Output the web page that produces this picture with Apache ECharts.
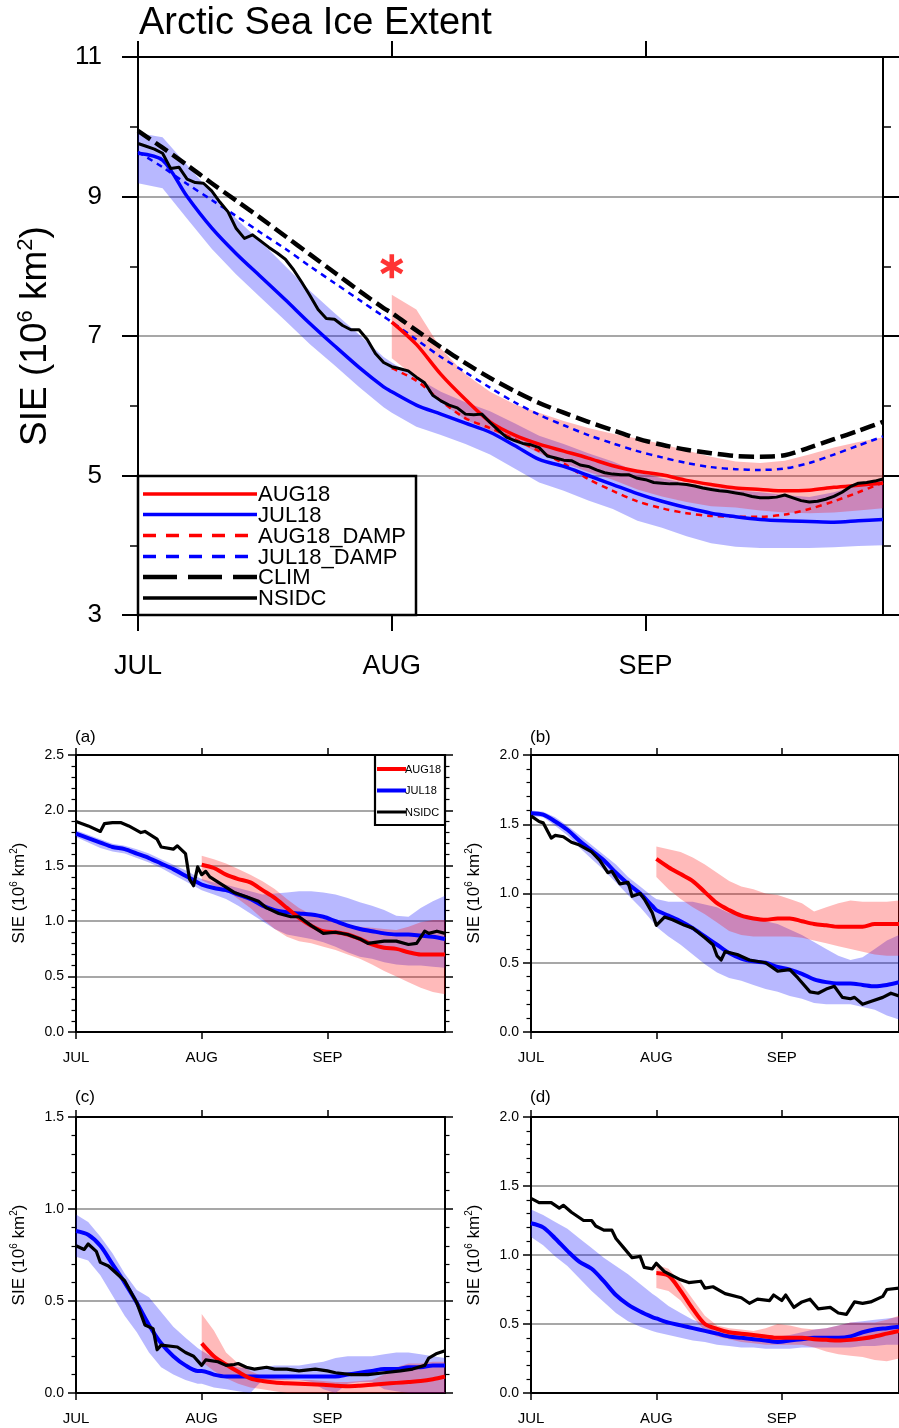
<!DOCTYPE html>
<html>
<head>
<meta charset="utf-8">
<script src="https://cdn.jsdelivr.net/npm/echarts@6/dist/echarts.min.js"></script>
<style>
html, body { margin: 0; padding: 0; background: #ffffff; }
#chart { width: 899px; height: 1428px; }
</style>
</head>
<body>
<div id="chart"></div>
<script>
// ---------- axis ticks (day of season, 0 = 1 July) ----------
const monthStarts = [0, 31, 62];
const monthLabels = ['JUL', 'AUG', 'SEP'];

// model sampling days
const days = [0,3,6,9,12,15,18,21,24,27,30,31,34,37,40,43,46,49,52,55,58,61,64,67,70,73,76,79,82,85,88,91];
const augDays = [31,34,37,40,43,46,49,52,55,58,61,64,67,70,73,76,79,82,85,88,91];

// ---------- top panel: Arctic total (10^6 km^2) ----------
const clim = [9.94,9.70,9.45,9.19,8.94,8.69,8.43,8.17,7.91,7.65,7.40,7.33,7.08,6.84,6.61,6.40,6.21,6.04,5.90,5.77,5.65,5.53,5.44,5.37,5.32,5.28,5.27,5.29,5.40,5.52,5.64,5.77];
const julDamp = [9.64,9.42,9.18,8.95,8.72,8.48,8.25,8.00,7.76,7.52,7.28,7.20,6.95,6.70,6.48,6.26,6.05,5.87,5.72,5.58,5.46,5.35,5.26,5.18,5.12,5.09,5.08,5.10,5.18,5.30,5.43,5.56];
const jul18 = [9.62,9.52,9.00,8.55,8.18,7.85,7.52,7.18,6.86,6.55,6.27,6.20,6.01,5.88,5.75,5.62,5.43,5.23,5.13,5.00,4.87,4.74,4.63,4.54,4.46,4.41,4.37,4.35,4.34,4.33,4.35,4.37];
const jul18Hi = [9.91,9.85,9.45,9.05,8.68,8.35,8.00,7.65,7.33,7.02,6.70,6.62,6.40,6.20,6.05,5.92,5.75,5.57,5.45,5.32,5.20,5.05,4.96,4.89,4.83,4.79,4.76,4.72,4.69,4.76,4.86,4.94];
const jul18Lo = [9.19,9.12,8.68,8.25,7.88,7.55,7.22,6.88,6.58,6.27,5.98,5.90,5.70,5.58,5.45,5.30,5.10,4.90,4.78,4.64,4.52,4.35,4.25,4.13,4.03,3.98,3.96,3.96,3.96,3.97,3.99,4.00];
const aug18 = [7.20,6.88,6.45,6.09,5.77,5.58,5.45,5.35,5.25,5.14,5.06,5.01,4.93,4.87,4.82,4.80,4.78,4.79,4.83,4.86,4.89];
const aug18Hi = [7.59,7.38,6.82,6.45,6.20,6.02,5.90,5.78,5.68,5.60,5.53,5.45,5.36,5.27,5.20,5.18,5.21,5.30,5.40,5.48,5.55];
const aug18Lo = [6.68,6.40,6.05,5.80,5.65,5.50,5.32,5.18,5.05,4.94,4.80,4.70,4.62,4.56,4.54,4.50,4.47,4.46,4.47,4.50,4.53];
const augDamp = [6.54,6.36,6.07,5.82,5.68,5.52,5.35,5.17,4.95,4.78,4.63,4.53,4.46,4.42,4.41,4.41,4.44,4.52,4.63,4.76,4.90];
const nsidc = [9.76,9.72,9.68,9.62,9.40,9.42,9.25,9.20,9.19,9.08,
  8.92,8.78,8.54,8.40,8.45,8.36,8.27,8.19,8.10,7.95,
  7.77,7.58,7.38,7.25,7.24,7.15,7.09,7.09,6.95,6.75,
  6.62,6.56,6.53,6.50,6.41,6.33,6.15,6.07,6.01,5.97,
  5.88,5.87,5.88,5.76,5.65,5.55,5.50,5.46,5.44,5.40,
  5.28,5.25,5.22,5.21,5.15,5.13,5.08,5.04,5.02,5.01,
  5.01,4.96,4.94,4.90,4.89,4.88,4.88,4.87,4.85,4.82,
  4.80,4.78,4.77,4.75,4.73,4.70,4.68,4.68,4.69,4.72,
  4.68,4.64,4.62,4.63,4.66,4.70,4.76,4.84,4.89,4.90,
  4.92,4.95];
const nsidcDays = nsidc.map((v, i) => i);
const augStar = [[31, 8.0]];

// ---------- panel (a) ----------
const aJul = [1.79,1.75,1.71,1.67,1.65,1.61,1.57,1.52,1.47,1.41,1.35,1.33,1.30,1.28,1.24,1.20,1.14,1.10,1.08,1.07,1.06,1.04,1.00,0.96,0.93,0.91,0.89,0.88,0.88,0.87,0.86,0.84];
const aJulHi = [1.82,1.78,1.74,1.70,1.68,1.65,1.61,1.56,1.51,1.46,1.40,1.38,1.35,1.33,1.30,1.27,1.24,1.25,1.26,1.27,1.27,1.26,1.24,1.21,1.17,1.14,1.10,1.05,1.04,1.12,1.18,1.23];
const aJulLo = [1.76,1.71,1.66,1.63,1.61,1.57,1.53,1.48,1.42,1.36,1.30,1.28,1.24,1.20,1.14,1.07,1.00,0.93,0.88,0.86,0.84,0.81,0.77,0.72,0.68,0.66,0.63,0.61,0.60,0.60,0.59,0.58];
const aAug = [1.51,1.48,1.42,1.38,1.35,1.28,1.21,1.12,1.03,0.96,0.91,0.90,0.88,0.84,0.79,0.76,0.75,0.72,0.70,0.70,0.70];
const aAugHi = [1.59,1.56,1.52,1.47,1.42,1.36,1.29,1.20,1.12,1.06,1.02,1.00,0.97,0.95,0.94,0.93,0.92,0.95,0.99,1.01,1.01];
const aAugLo = [1.37,1.32,1.28,1.20,1.12,1.02,0.93,0.86,0.82,0.80,0.77,0.74,0.70,0.66,0.61,0.55,0.50,0.45,0.40,0.36,0.34];
const aObsDays = [0,3,6,7,9,11,13,16,17,20,21,24,25,27,28,29,30,31,32,33,36,39,42,45,47,50,53,55,58,61,64,67,70,72,76,79,82,84,86,87,89,91];
const aObs = [1.90,1.86,1.81,1.88,1.89,1.89,1.86,1.80,1.81,1.74,1.67,1.65,1.68,1.61,1.38,1.32,1.49,1.42,1.45,1.40,1.33,1.26,1.22,1.18,1.12,1.07,1.04,1.04,0.96,0.89,0.90,0.88,0.84,0.80,0.82,0.82,0.79,0.80,0.91,0.89,0.91,0.89];

// ---------- panel (b) ----------
const bJul = [1.58,1.57,1.52,1.46,1.38,1.31,1.24,1.15,1.07,1.00,0.91,0.88,0.84,0.80,0.75,0.69,0.63,0.57,0.53,0.51,0.50,0.47,0.45,0.42,0.38,0.36,0.35,0.35,0.34,0.33,0.34,0.36];
const bJulHi = [1.60,1.59,1.55,1.49,1.42,1.35,1.28,1.21,1.12,1.05,0.98,0.96,0.94,0.94,0.94,0.92,0.90,0.86,0.84,0.82,0.80,0.78,0.74,0.70,0.65,0.60,0.55,0.52,0.54,0.60,0.66,0.70];
const bJulLo = [1.56,1.55,1.49,1.42,1.33,1.25,1.17,1.08,0.99,0.90,0.80,0.76,0.69,0.63,0.56,0.49,0.43,0.39,0.37,0.34,0.31,0.29,0.26,0.24,0.21,0.20,0.20,0.20,0.18,0.16,0.12,0.09];
const bAug = [1.25,1.19,1.14,1.09,1.01,0.93,0.88,0.84,0.82,0.81,0.82,0.82,0.80,0.78,0.77,0.76,0.76,0.76,0.78,0.78,0.78];
const bAugHi = [1.34,1.32,1.30,1.26,1.21,1.15,1.09,1.05,1.03,1.00,0.99,0.96,0.93,0.87,0.90,0.93,0.95,0.94,0.94,0.94,0.95];
const bAugLo = [1.12,1.03,0.96,0.90,0.85,0.79,0.73,0.70,0.69,0.69,0.69,0.69,0.68,0.66,0.64,0.62,0.60,0.58,0.56,0.55,0.55];
const bObsDays = [0,2,3,5,6,8,10,12,15,17,19,20,22,24,25,27,28,30,31,33,35,38,40,43,45,46,47,48,51,54,58,61,64,66,69,71,73,75,77,79,80,82,84,87,89,91];
const bObs = [1.56,1.52,1.51,1.40,1.42,1.41,1.37,1.35,1.30,1.24,1.15,1.16,1.07,1.08,0.98,1.00,0.96,0.86,0.77,0.83,0.81,0.77,0.75,0.68,0.63,0.55,0.52,0.58,0.56,0.52,0.50,0.44,0.45,0.39,0.29,0.28,0.31,0.33,0.25,0.24,0.25,0.20,0.22,0.25,0.28,0.26];

// ---------- panel (c) ----------
const cJul = [0.88,0.86,0.80,0.70,0.60,0.49,0.37,0.27,0.20,0.15,0.12,0.12,0.10,0.09,0.09,0.09,0.09,0.09,0.09,0.09,0.09,0.09,0.09,0.10,0.11,0.12,0.13,0.13,0.14,0.14,0.15,0.15];
const cJulHi = [0.97,0.93,0.85,0.76,0.65,0.56,0.52,0.44,0.36,0.30,0.245,0.23,0.19,0.16,0.14,0.13,0.14,0.15,0.15,0.15,0.16,0.17,0.19,0.20,0.20,0.20,0.21,0.22,0.22,0.21,0.20,0.19];
const cJulLo = [0.74,0.72,0.64,0.53,0.42,0.33,0.22,0.14,0.10,0.07,0.05,0.05,0.03,0.02,0.01,0.00,0.07,0.07,0.07,0.07,0.06,0.02,0.00,0.05,0.06,0.06,0.02,0.01,0.00,0.00,0.00,0.00];
const cAug = [0.27,0.20,0.155,0.115,0.08,0.065,0.057,0.053,0.05,0.047,0.045,0.04,0.037,0.04,0.045,0.05,0.055,0.06,0.065,0.075,0.09];
const cAugHi = [0.43,0.34,0.22,0.16,0.12,0.09,0.08,0.075,0.07,0.07,0.065,0.06,0.06,0.065,0.07,0.10,0.14,0.16,0.16,0.17,0.17];
const cAugLo = [0.17,0.12,0.08,0.05,0.03,0.02,0.01,0,0,0,0,0,0,0,0,0,0,0,0,0,0];
const cObsDays = [0,2,3,5,6,8,12,15,17,19,20,21,25,27,29,31,32,35,37,39,40,42,44,47,49,52,55,59,62,64,68,72,76,80,83,86,87,89,91];
const cObs = [0.80,0.78,0.81,0.77,0.71,0.69,0.61,0.49,0.37,0.35,0.235,0.26,0.25,0.22,0.20,0.15,0.18,0.17,0.15,0.155,0.16,0.14,0.13,0.14,0.13,0.13,0.12,0.13,0.12,0.11,0.10,0.10,0.11,0.12,0.13,0.15,0.19,0.215,0.23];

// ---------- panel (d) ----------
const dJul = [1.23,1.20,1.12,1.03,0.95,0.90,0.81,0.71,0.64,0.59,0.55,0.54,0.51,0.49,0.47,0.45,0.43,0.41,0.40,0.39,0.38,0.37,0.38,0.39,0.40,0.40,0.40,0.41,0.44,0.46,0.47,0.48];
const dJulHi = [1.33,1.29,1.24,1.19,1.12,1.05,0.98,0.92,0.86,0.79,0.72,0.70,0.63,0.58,0.53,0.50,0.47,0.45,0.44,0.43,0.42,0.41,0.42,0.44,0.46,0.47,0.49,0.51,0.52,0.53,0.54,0.55];
const dJulLo = [1.13,1.07,0.99,0.92,0.83,0.74,0.66,0.58,0.52,0.48,0.45,0.44,0.42,0.40,0.38,0.37,0.35,0.34,0.33,0.33,0.32,0.32,0.32,0.33,0.33,0.33,0.33,0.33,0.34,0.34,0.35,0.35];
const dAug = [0.87,0.85,0.74,0.61,0.50,0.465,0.44,0.43,0.42,0.41,0.40,0.40,0.40,0.39,0.385,0.38,0.385,0.395,0.41,0.43,0.45];
const dAugHi = [0.93,0.90,0.80,0.68,0.56,0.49,0.47,0.46,0.45,0.47,0.50,0.49,0.47,0.46,0.47,0.49,0.51,0.51,0.51,0.53,0.56];
const dAugLo = [0.76,0.74,0.67,0.55,0.45,0.41,0.39,0.37,0.36,0.35,0.35,0.35,0.35,0.33,0.30,0.28,0.27,0.26,0.24,0.23,0.25];
const dObsDays = [0,2,5,7,8,10,13,15,16,18,20,21,23,25,27,28,30,31,33,37,39,42,43,45,48,52,54,56,59,60,62,63,65,67,69,71,74,76,78,80,82,84,87,88,91];
const dObs = [1.41,1.38,1.38,1.34,1.36,1.31,1.25,1.25,1.21,1.18,1.18,1.12,1.05,0.98,0.99,0.91,0.90,0.94,0.88,0.82,0.80,0.81,0.76,0.77,0.72,0.69,0.65,0.68,0.67,0.71,0.67,0.71,0.62,0.66,0.68,0.61,0.62,0.58,0.57,0.66,0.65,0.66,0.70,0.75,0.76];

// ---------- text ----------
const mainTitle = 'Arctic Sea Ice Extent';
const mainNames = ['AUG18', 'JUL18', 'AUG18_DAMP', 'JUL18_DAMP', 'CLIM', 'NSIDC'];
const subNames = ['AUG18', 'JUL18', 'NSIDC'];
const panelTags = ['(a)', '(b)', '(c)', '(d)'];

// ---------- drawing ----------
const FONT = "'Liberation Sans', Arial, Helvetica, sans-serif";
const RED = '#ff0000', BLUE = '#0000ff', BLACK = '#000000';
const BLUE_FILL = 'rgba(0,0,255,0.28)';
const RED_FILL = 'rgba(255,0,0,0.27)';

const panels = [
  { grid: { left: 138, top: 57, width: 745, height: 558 }, min: 3, max: 11, step: 2, minor: 2, big: true },
  { grid: { left: 76, top: 755, width: 369, height: 277 }, min: 0, max: 2.5, step: 0.5, minor: 5 },
  { grid: { left: 531, top: 755, width: 371, height: 277 }, min: 0, max: 2.0, step: 0.5, minor: 5 },
  { grid: { left: 76, top: 1117, width: 369, height: 276 }, min: 0, max: 1.5, step: 0.5, minor: 5 },
  { grid: { left: 531, top: 1117, width: 371, height: 276 }, min: 0, max: 2.0, step: 0.5, minor: 5 }
];

const grids = [], xAxes = [], yAxes = [];
panels.forEach((p, i) => {
  grids.push(Object.assign({ containLabel: false }, p.grid));
  const big = !!p.big;
  const lw = 2;
  const tl = big ? 16 : 8;
  const ml = big ? 8 : 4.5;
  const axisLine = { show: true, onZero: false, lineStyle: { color: BLACK, width: lw } };
  const tickStyle = { color: BLACK, width: big ? 2 : 1.5 };
  const xBase = (pos, labels) => ({
    type: 'value', gridIndex: i, min: 0, max: 91, position: pos,
    axisLine: axisLine,
    axisTick: { show: true, inside: false, length: big ? 16 : 7, customValues: monthStarts, lineStyle: tickStyle },
    axisLabel: {
      show: labels, customValues: monthStarts,
      formatter: v => monthLabels[monthStarts.indexOf(v)],
      fontSize: big ? 27 : 15, margin: big ? 38 : 18, color: BLACK, fontFamily: FONT
    },
    splitLine: { show: false }, minorTick: { show: false }
  });
  xAxes.push(xBase('bottom', true));
  xAxes.push(xBase('top', false));
  const yBase = (pos, labels) => ({
    type: 'value', gridIndex: i, min: p.min, max: p.max, interval: p.step, position: pos,
    axisLine: axisLine,
    axisTick: { show: true, inside: false, length: tl, lineStyle: tickStyle },
    minorTick: { show: true, splitNumber: p.minor, length: ml, lineStyle: { color: BLACK, width: big ? 1.5 : 1.2 } },
    axisLabel: {
      show: labels, fontSize: big ? 26 : 14, margin: big ? 36 : 12, color: BLACK, fontFamily: FONT,
      formatter: big ? (v => String(v)) : (v => v.toFixed(1))
    },
    splitLine: { show: labels, lineStyle: { color: '#8a8a8a', width: 1.5 } },
    minorSplitLine: { show: false }
  });
  yAxes.push(yBase('left', true));
  yAxes.push(yBase('right', false));
});

function pairs(xs, ys) { return xs.map((x, k) => [x, ys[k]]); }

function line(i, xs, ys, color, width, dash, smooth) {
  return {
    type: 'line', xAxisIndex: 2 * i, yAxisIndex: 2 * i,
    data: pairs(xs, ys), showSymbol: false, symbol: 'none',
    smooth: smooth ? 0.3 : false,
    lineStyle: { color: color, width: width, type: dash || 'solid', cap: 'butt', join: 'round' },
    silent: true, z: 3
  };
}

function band(i, xs, lo, hi, fill) {
  return {
    type: 'custom', xAxisIndex: 2 * i, yAxisIndex: 2 * i, silent: true, z: 2,
    data: xs.map((x, k) => [x, lo[k], hi[k]]),
    encode: { x: 0, y: [1, 2] },
    renderItem: function (params, api) {
      if (params.dataIndex !== 0) return;
      const upper = [], lower = [];
      for (let k = 0; k < xs.length; k++) {
        upper.push(api.coord([xs[k], hi[k]]));
        lower.push(api.coord([xs[k], lo[k]]));
      }
      return {
        type: 'polygon',
        shape: { points: upper.concat(lower.reverse()) },
        style: { fill: fill, stroke: null }
      };
    }
  };
}

function asteriskPath() {
  const L = 11, W = 2.1;
  let d = '';
  [90, 30, 150].forEach(a => {
    const r = a * Math.PI / 180, c = Math.cos(r), s = Math.sin(r);
    const px = -s * W, py = c * W;
    const pts = [[L * c + px, L * s + py], [L * c - px, L * s - py], [-L * c - px, -L * s - py], [-L * c + px, -L * s + py]];
    d += 'M' + pts.map(q => q[0].toFixed(2) + ' ' + q[1].toFixed(2)).join(' L') + ' Z ';
  });
  return 'path://' + d;
}

const DOT = [6, 5];
const DASH = [15, 6];

const series = [
  band(0, days, jul18Lo, jul18Hi, BLUE_FILL),
  band(0, augDays, aug18Lo, aug18Hi, RED_FILL),
  line(0, days, clim, BLACK, 4.5, DASH, true),
  line(0, days, julDamp, BLUE, 2.5, DOT, true),
  line(0, augDays, augDamp, RED, 2.5, DOT, true),
  line(0, days, jul18, BLUE, 3.5, null, true),
  line(0, augDays, aug18, RED, 3.5, null, true),
  line(0, nsidcDays, nsidc, BLACK, 3, null, false),
  {
    type: 'scatter', xAxisIndex: 0, yAxisIndex: 0, data: augStar,
    symbol: asteriskPath(), symbolSize: 24, symbolKeepAspect: true,
    itemStyle: { color: RED }, silent: true, z: 4
  }
];

const subSets = [
  [aJul, aJulLo, aJulHi, aAug, aAugLo, aAugHi, aObsDays, aObs],
  [bJul, bJulLo, bJulHi, bAug, bAugLo, bAugHi, bObsDays, bObs],
  [cJul, cJulLo, cJulHi, cAug, cAugLo, cAugHi, cObsDays, cObs],
  [dJul, dJulLo, dJulHi, dAug, dAugLo, dAugHi, dObsDays, dObs]
];
subSets.forEach((s, k) => {
  const i = k + 1;
  series.push(band(i, days, s[1], s[2], BLUE_FILL));
  series.push(band(i, augDays, s[4], s[5], RED_FILL));
  series.push(line(i, days, s[0], BLUE, 4, null, true));
  series.push(line(i, augDays, s[3], RED, 4, null, true));
  series.push(line(i, s[6], s[7], BLACK, 3.2, null, false));
});

// ---------- annotations: title, axis names, legends ----------
const graphics = [];
graphics.push({
  type: 'text', x: 139, y: 24, z: 50,
  style: { text: mainTitle, fontSize: 38, fontFamily: FONT, fill: BLACK, align: 'left', verticalAlign: 'middle' }
});

function sieName(x, y, size, sup) {
  return {
    type: 'text', x: x, y: y, rotation: Math.PI / 2, z: 50,
    style: {
      text: '{a|SIE (10}{s|6}{a| km}{s|2}{a|)}',
      align: 'center', verticalAlign: 'middle', fill: BLACK,
      rich: {
        a: { fontSize: size, fontFamily: FONT, fill: BLACK, lineHeight: size * 1.15 },
        s: { fontSize: sup, fontFamily: FONT, fill: BLACK, verticalAlign: 'top', lineHeight: size * 1.15 }
      }
    }
  };
}
graphics.push(sieName(36, 336, 37, 22));
graphics.push(sieName(19, 893, 17, 10));
graphics.push(sieName(474, 893, 17, 10));
graphics.push(sieName(19, 1255, 17, 10));
graphics.push(sieName(474, 1255, 17, 10));

[[75, 737], [530, 737], [75, 1097], [530, 1097]].forEach((pos, k) => {
  graphics.push({
    type: 'text', x: pos[0], y: pos[1], z: 50,
    style: { text: panelTags[k], fontSize: 17, fontFamily: FONT, fill: BLACK, align: 'left', verticalAlign: 'middle' }
  });
});

// main legend
const mainKeys = [
  { color: RED, width: 3.5, dash: null },
  { color: BLUE, width: 3.5, dash: null },
  { color: RED, width: 3.5, dash: [13, 10] },
  { color: BLUE, width: 3.5, dash: [13, 10] },
  { color: BLACK, width: 4.5, dash: [34, 11] },
  { color: BLACK, width: 3.5, dash: null }
];
const mainRows = [494, 514.5, 535.5, 556.5, 577, 598];
graphics.push({
  type: 'rect', z: 60,
  shape: { x: 138, y: 476, width: 278, height: 139 },
  style: { fill: '#ffffff', stroke: BLACK, lineWidth: 2.5 }
});
mainNames.forEach((name, k) => {
  const key = mainKeys[k];
  graphics.push({
    type: 'line', z: 61,
    shape: { x1: 143, y1: mainRows[k], x2: 257, y2: mainRows[k] },
    style: { stroke: key.color, lineWidth: key.width, lineDash: key.dash || null }
  });
  graphics.push({
    type: 'text', x: 258, y: mainRows[k] + 1, z: 61,
    style: { text: name, fontSize: 22, fontFamily: FONT, fill: BLACK, align: 'left', verticalAlign: 'middle' }
  });
});

// panel (a) legend
const subKeys = [{ color: RED, width: 4 }, { color: BLUE, width: 4 }, { color: BLACK, width: 3 }];
const subRows = [769, 790.5, 812];
graphics.push({
  type: 'rect', z: 60,
  shape: { x: 375, y: 755, width: 70, height: 70 },
  style: { fill: '#ffffff', stroke: BLACK, lineWidth: 2.2 }
});
subNames.forEach((name, k) => {
  graphics.push({
    type: 'line', z: 61,
    shape: { x1: 377, y1: subRows[k], x2: 406, y2: subRows[k] },
    style: { stroke: subKeys[k].color, lineWidth: subKeys[k].width }
  });
  graphics.push({
    type: 'text', x: 405, y: subRows[k] + 0.5, z: 61,
    style: { text: name, fontSize: 11, fontFamily: FONT, fill: BLACK, align: 'left', verticalAlign: 'middle' }
  });
});

const chart = echarts.init(document.getElementById('chart'), null, { renderer: 'canvas' });
chart.setOption({
  animation: false,
  backgroundColor: '#ffffff',
  textStyle: { fontFamily: FONT },
  grid: grids,
  xAxis: xAxes,
  yAxis: yAxes,
  series: series,
  graphic: graphics
});
</script>
</body>
</html>
